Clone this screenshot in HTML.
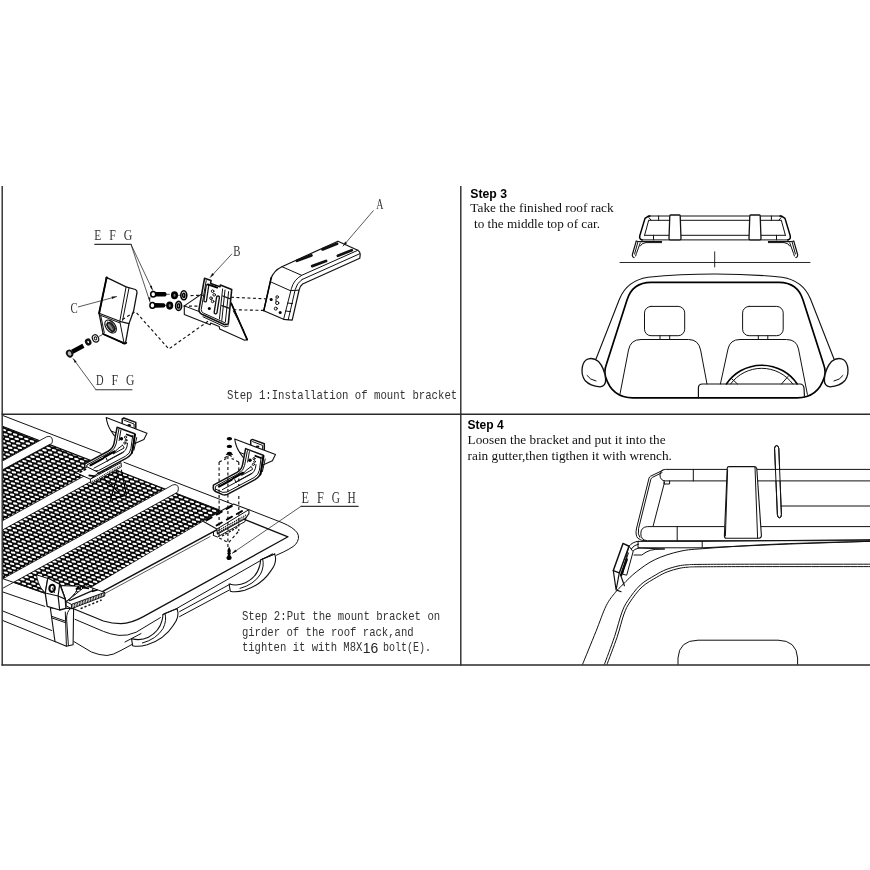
<!DOCTYPE html>
<html><head><meta charset="utf-8"><title>Roof rack installation</title>
<style>
html,body{margin:0;padding:0;background:#fff;}
body{width:870px;height:870px;overflow:hidden;font-family:"Liberation Sans",sans-serif;}
svg{display:block;position:absolute;left:0;top:0;}
.ln{fill:none;stroke:#111;stroke-width:1;stroke-linecap:round;stroke-linejoin:round;}
.th{fill:none;stroke:#111;stroke-width:0.7;stroke-linecap:round;stroke-linejoin:round;}
.bd{fill:none;stroke:#000;stroke-width:1.5;stroke-linecap:round;stroke-linejoin:round;}
.wf{fill:#fff;stroke:#111;stroke-width:1;stroke-linecap:round;stroke-linejoin:round;}
.ds{fill:none;stroke:#111;stroke-width:1.15;stroke-dasharray:3 2.5;}
.fr{stroke:#2a2a2a;stroke-width:1.4;fill:none;}
.sans{font-family:"Liberation Sans",sans-serif;font-weight:bold;font-size:12px;fill:#000;}
.ser{font-family:"Liberation Serif",serif;font-size:13px;fill:#111;}
.mono{font-family:"Liberation Mono",monospace;font-size:12.6px;fill:#333;}
.lab{font-family:"Liberation Serif",serif;font-size:14px;fill:#333;filter:url(#nf);}
</style></head><body>
<svg width="870" height="870" viewBox="0 0 870 870">
<rect x="0" y="0" width="870" height="870" fill="#fff"/>

<g id="frame">
<line class="fr" x1="2.2" y1="186" x2="2.2" y2="665.5"/>
<line class="fr" x1="460.8" y1="186" x2="460.8" y2="665.5"/>
<line class="fr" x1="1.5" y1="414.2" x2="870" y2="414.2"/>
<line class="fr" x1="1.5" y1="665" x2="870" y2="665"/>
</g>
<defs><filter id="nf" x="0" y="0" width="870" height="870" filterUnits="userSpaceOnUse" color-interpolation-filters="sRGB"><feOffset dx="0" dy="0"/></filter></defs>
<g id="text" filter="url(#nf)">
<text class="sans" x="470.3" y="197.6" textLength="36.7" lengthAdjust="spacingAndGlyphs">Step 3</text>
<text class="ser" x="470.3" y="212.3" textLength="143.4" lengthAdjust="spacingAndGlyphs">Take the finished roof rack</text>
<text class="ser" x="474" y="227.6" textLength="126" lengthAdjust="spacingAndGlyphs">to the middle top of car.</text>
<text class="sans" x="467.6" y="428.7" textLength="36.1" lengthAdjust="spacingAndGlyphs">Step 4</text>
<text class="ser" x="467.6" y="443.8" textLength="198" lengthAdjust="spacingAndGlyphs">Loosen the bracket and put it into the</text>
<text class="ser" x="467.6" y="459.5" textLength="204.3" lengthAdjust="spacingAndGlyphs">rain gutter,then tigthen it with wrench.</text>
<text class="mono" x="226.9" y="399.3" textLength="230.3" lengthAdjust="spacingAndGlyphs">Step 1:Installation of mount bracket</text>
<text class="mono" x="241.9" y="620.4" textLength="198.3" lengthAdjust="spacingAndGlyphs">Step 2:Put the mount bracket on</text>
<text class="mono" x="241.9" y="635.8" textLength="171.8" lengthAdjust="spacingAndGlyphs">girder of the roof rack,and</text>
<text class="mono" x="241.9" y="651.3" textLength="120.5" lengthAdjust="spacingAndGlyphs">tighten it with M8X</text>
<text x="362.8" y="652.6" style="font-family:'Liberation Sans',sans-serif;font-size:14.5px;fill:#222" textLength="15.5" lengthAdjust="spacingAndGlyphs">16</text>
<text class="mono" x="383.0" y="651.3" textLength="48.0" lengthAdjust="spacingAndGlyphs">bolt(E).</text>
</g>
<g id="step3">
<path class="ln" d="M648.6 216 H781.4"/>
<path class="ln" d="M648.6 220.3 H781.4"/>
<path class="ln" d="M644.6 235.3 H785.4"/>
<path class="ln" d="M641.6 239.9 H788.4"/>
<path class="bd" d="M650 216 L648.4 216.2 L645 218.4 L639.8 235.6 Q639 239.4 642.2 239.9"/>
<path class="ln" d="M648.6 220.6 L644.6 235.3"/>
<path class="ln" d="M648.8 217.5 L651.2 220.3"/>
<path class="bd" d="M780 216 L781.6 216.2 L785 218.4 L790.2 235.6 Q791 239.4 787.8 239.9"/>
<path class="ln" d="M781.4 220.6 L785.4 235.3"/>
<path class="ln" d="M781.2 217.5 L778.8 220.3"/>
<path class="ln" d="M658.6 216 V220.3 M653.5 235.3 V239.9 M771.4 216 V220.3 M776.5 235.3 V239.9"/>
<path class="wf" style="stroke-width:1.3" d="M670.6 215 H679.4 Q680.2 215 680.2 216 L681 238.6 Q681 239.9 679.8 239.9 H670.2 Q669 239.9 669 238.6 L669.8 216 Q669.8 215 670.6 215Z"/>
<path class="wf" style="stroke-width:1.3" d="M750.6 215 H759.4 Q760.2 215 760.2 216 L761 238.6 Q761 239.9 759.8 239.9 H750.2 Q749 239.9 749 238.6 L749.8 216 Q749.8 215 750.6 215Z"/>
<path class="ln" style="stroke-width:1.2" d="M639.5 241.6 H661.6"/>
<path class="ln" d="M661.6 242.6 H646 Q641.5 243 640.2 246"/>
<path class="ln" style="stroke-width:1.2" d="M636.2 241.2 L632.4 254.5 Q632 257 634 257.6"/>
<path class="ln" d="M638 241.6 L634.6 254 M640.2 243 L636.4 253.6 L635.6 256"/>
<path class="ln" d="M636.2 241.2 L640 241.6"/>
<path class="ln" style="stroke-width:1.2" d="M790.5 241.6 H768.4"/>
<path class="ln" d="M768.4 242.6 H784 Q788.5 243 789.8 246"/>
<path class="ln" style="stroke-width:1.2" d="M793.8 241.2 L797.6 254.5 Q798 257 796 257.6"/>
<path class="ln" d="M792 241.6 L795.4 254 M789.8 243 L793.6 253.6 L794.4 256"/>
<path class="ln" d="M793.8 241.2 L790 241.6"/>
<path class="ln" style="stroke-width:0.9" d="M620 262.5 H810"/>
<path class="ln" style="stroke-width:0.9" d="M714.7 251.8 V267"/>
<path class="ln" style="stroke-width:1.1" d="M596 359 L619.5 299 Q627 280.5 648 277.2 Q680 274 715 274 Q750 274 782 277.2 Q803 280.5 810.5 299 L834 359"/>
<path class="bd" style="stroke-width:1.7" d="M633 397.8 Q612 397.8 605.6 377 Q603.8 371 606.5 364 L627 300 Q632.5 282.4 651 282.4 H779 Q797.5 282.4 803 300 L823.5 364 Q826.2 371 824.4 377 Q818 397.8 797 397.8 Z"/>
<path class="wf" style="stroke-width:1.3" d="M588.5 358.8 Q594 357.6 598.5 361.5 Q604.5 368 605.6 379 Q606 386.5 600 386.8 Q590 386 585 380.5 Q580.8 374.5 582.4 366.5 Q583.8 360 588.5 358.8Z"/>
<path class="ln" d="M587 375.5 Q590 380 596 381"/>
<path class="wf" style="stroke-width:1.3" d="M841.5 358.8 Q836 357.6 831.5 361.5 Q825.5 368 824.4 379 Q824 386.5 830 386.8 Q840 386 845 380.5 Q849.2 374.5 847.6 366.5 Q846.2 360 841.5 358.8Z"/>
<path class="ln" d="M843 375.5 Q840 380 834 381"/>
<rect class="ln" x="644.5" y="306.4" width="40.2" height="29.3" rx="6.5"/>
<rect class="ln" x="742.6" y="306.4" width="40.6" height="29.3" rx="6.5"/>
<path class="ln" d="M660 335.7 V339.5 M669.7 335.7 V339.5 M758.3 335.7 V339.5 M767.8 335.7 V339.5"/>
<path class="ln" d="M620 394 L628.5 350 Q630.5 339.5 641 339.5 H688.6 Q698.5 339.5 700.6 350 L707 384"/>
<path class="ln" d="M720.4 384 L728 349 Q730 339.5 740 339.5 H786.5 Q796.5 339.5 798.5 349 L807.4 394.4"/>
<path class="bd" style="stroke-width:1.6" d="M726.4 384 A42.7 42.7 0 0 1 797.2 384"/>
<path class="ln" d="M730.6 384 A38.4 38.4 0 0 1 792.8 384"/>
<path class="ln" d="M732 379 L737.5 384 M781.5 384 L788 376.5"/>
<path class="ln" style="stroke-width:1.2" d="M698.4 397.8 V388 Q698.4 384 702.4 384 H800 Q803.4 384 804 388 L804.5 397"/>
</g>
<g id="step4">
<clipPath id="c4"><rect x="461" y="415" width="409" height="249.6"/></clipPath>
<g clip-path="url(#c4)">
<path class="wf" style="stroke-width:1" d="M774.6 448 Q774.8 445.4 776.8 445.6 Q778.6 445.8 778.8 448.5 L781.4 514.5 Q781.4 517.8 779.4 517.8 Q777.6 517.8 777.4 514.8 Z"/>
<path class="wf" d="M872 469.4 H665.5 Q660 469.6 660 475 Q660 480.6 665.5 480.9 H872"/>
<path class="ln" d="M693.3 469.4 V480.9"/>
<path class="ln" d="M781 506 H872"/>
<path class="wf" d="M872 526.6 H647.5 Q640.8 527 640.8 533.8 Q640.8 540.2 647.5 540.7 H872"/>
<path class="ln" d="M677.2 526.6 V540.7"/>
<path class="ln" d="M774.6 448 Q774.8 445.4 776.8 445.6 Q778.6 445.8 778.8 448.5 L781.4 514.5 Q781.4 517.8 779.4 517.8 Q777.6 517.8 777.4 514.8 Z"/>
<path class="ln" d="M663 470.2 L650.6 476.2 Q649.4 476.8 649 478.2 L636.6 528 Q635 535 637.8 538.2 Q640.2 540.6 645.4 540.9"/>
<path class="ln" d="M662 472.6 L652.4 477.4 Q651.2 478 650.8 479.4 L638.6 528.4 Q637.4 534.6 639.8 537.4"/>
<path class="ln" d="M664.6 482 L653.2 525.8"/>
<path class="ln" d="M664 480.9 V484 H669.6 V480.9"/>
<path class="wf" style="stroke-width:1.1" d="M729 466.6 H754.2 Q756.4 466.8 756.8 468.6 L761.4 535.6 Q761.4 538.2 759 538.2 H726.4 Q724.2 538.2 724.4 535.6 L727.2 468.4 Q727.4 466.6 729 466.6Z"/>
<path class="ln" d="M755 467 L757.6 538.2"/>
<path class="ln" d="M727.6 470 L725.4 536"/>
<path class="wf" d="M638.4 541.4 H702.2 V547.8 H638.4 Z"/>
<path class="ln" d="M702.2 541.4 L872 539.6"/>
<path class="ln" d="M702.2 547.8 Q790 543.6 872 541.2"/>
<path class="ln" d="M638.6 548 L664.4 549 M638.6 548 Q634.4 549 632.2 551.8"/>
<path class="ln" d="M634 555 H641.8 L646 552.2 Q650 549.8 655.2 549.4 L664.4 549"/>
<path class="ln" d="M638.6 541.2 Q632.4 541.8 629 546.2"/>
<path class="ln" d="M638.6 544 Q633.6 545 630.8 549.4"/>
<path class="wf" style="stroke-width:1" d="M629 546.2 L633.1 551.7 L626.7 575.2 L623 574.3 Z"/>
<path class="wf" style="stroke-width:1.5" d="M623 543.4 L629 546.2 L619.3 572.9 L613.3 570.6 Z"/>
<path d="M626.7 559.5 L621.1 575.2" style="stroke:#000;stroke-width:2.4;stroke-linecap:round;fill:none"/>
<path class="ln" d="M628.4 553 L623.4 568"/>
<path class="ln" style="stroke-width:1.2" d="M613.3 570.6 L616.1 589.9 L621.1 591.7 M619.3 572.9 L616.3 589 M620.7 575.2 L624.4 585.7"/>
<path class="ln" d="M872.0 541.3 C856.1 541.8 804.2 542.9 776.9 544.1 C749.5 545.3 724.0 547.1 707.9 548.3 C691.8 549.5 688.8 549.4 680.0 551.3 C671.2 553.2 662.4 556.1 655.2 559.5 C648.0 562.9 642.2 567.4 636.8 571.5 C631.4 575.6 626.5 580.9 623.0 584.4 C619.5 587.9 618.3 588.7 615.5 592.2 C612.7 595.8 609.5 599.1 606.2 605.7 C602.9 612.3 599.9 621.7 595.9 631.6 C591.9 641.5 584.5 659.6 582.2 665.2"/>
<path class="ln" d="M872.0 564.2 C853.3 564.2 788.7 564.2 760.0 564.2 C731.3 564.2 712.1 564.3 700.0 564.4 C687.9 564.5 690.9 564.5 687.2 564.8 C683.5 565.1 681.5 565.2 678.0 566.0 C674.5 566.8 669.8 568.1 666.0 569.6 C662.2 571.1 659.5 572.6 655.2 575.2 C650.9 577.8 644.8 580.8 640.3 585.0 C635.8 589.2 631.0 595.9 627.9 600.5 C624.8 605.1 623.9 606.9 621.7 612.9 C619.5 618.9 617.4 628.0 614.5 636.7 C611.6 645.4 605.8 660.5 604.1 665.2"/>
<path class="ln" d="M872.0 566.6 C853.3 566.6 788.7 566.6 760.0 566.6 C731.3 566.6 712.0 566.7 700.0 566.8 C688.0 566.9 691.5 566.9 688.0 567.2 C684.5 567.5 682.4 567.6 679.0 568.4 C675.6 569.2 671.1 570.3 667.4 571.8 C663.7 573.3 661.0 574.7 656.8 577.2 C652.6 579.7 646.7 582.7 642.2 586.8 C637.7 590.9 633.0 597.5 630.0 602.0 C627.0 606.5 626.2 608.1 624.0 614.0 C621.8 619.9 619.9 628.9 617.0 637.4 C614.1 645.9 608.4 660.6 606.7 665.2"/>
<path class="ln" d="M678 665 V658 Q679 640.4 698 640.2 H778 Q796.6 640.4 797.6 658 V665"/>
</g></g>
<g id="step1">
<path class="wf" style="stroke-width:1.2" d="M281.9 266.7 L337.9 241.2 L357.8 250.3 Q360.4 251.8 360.2 254.6 L359.8 258.2 L302.6 284 Q299.6 286.4 299.1 290 L292.2 320.2 L283.6 319.3 L263.8 310.7 L271 278.6 Q273.6 270.6 281.9 266.7 Z"/>
<path class="ln" d="M281.9 266.7 L301.7 275.3 L357.8 250.3"/>
<path class="ln" d="M301.9 279.6 L359.6 253.8"/>
<path class="ln" d="M301.7 275.3 Q293.6 279.8 291.4 288.6 L283.6 319.3"/>
<path class="ln" d="M302 279.6 Q296.8 282.8 295.2 289.6 L288.2 319.8"/>
<path class="ln" d="M271.4 282.2 L290.2 290.6 L298.6 290.2"/>
<path class="ln" d="M287.4 303 L292.6 303.6 M285.6 311 L290.6 311.6"/>
<path class="bd" d="M271.2 277.6 L263.8 310.7"/>
<path d="M297 260.8 L311.4 255.4 M322.6 249.4 L337 243.8 M312.2 266.1 L326 261 M337.9 255.7 L351.8 250.2" style="stroke:#111;stroke-width:2.8;stroke-linecap:round;fill:none"/>
<circle cx="271.2" cy="299.5" r="1.5" fill="#000"/><circle cx="280.2" cy="312.4" r="1.5" fill="#000"/>
<circle class="ln" cx="277.2" cy="297" r="1.3"/><circle class="ln" cx="277.2" cy="303" r="1.6"/><circle class="ln" cx="275.8" cy="308.6" r="1.5"/>
<path class="ln" d="M276 299 L276 301.4"/>
<text class="lab" style="font-size:14.6px" x="376.2" y="209.0" textLength="7.2" lengthAdjust="spacingAndGlyphs">A</text>
<text class="lab" style="font-size:14.6px" x="233.2" y="255.9" textLength="7.2" lengthAdjust="spacingAndGlyphs">B</text>
<path class="th" d="M373.3 210.7 L343.1 246"/>
<path d="M343.1 246 L345.2 241.6 L347 243.2 Z" fill="#111"/>
<path class="wf" style="stroke-width:1.1" d="M184.3 305.9 L202.6 293.4 L230.9 302.4 L247.2 339.6 L244.7 340.3 L219.7 329.1 L219.2 326.6 L210.6 323 L210.2 324.8 L184.3 314.5 Z"/>
<path class="bd" style="stroke-width:1.7" d="M231.4 303.6 L247.2 339.6"/>
<path class="ln" d="M233.4 311 L243.6 330.4"/>
<path class="ln" d="M184.3 305.9 L203 313"/>
<path class="wf" style="stroke-width:1.6" d="M204.5 278.3 L211 280.6 L210.6 283.4 L220 286.8 L220.4 285 L231.7 289.5 L228.3 324 L224.8 324.8 L202.4 314.5 Q198.6 312.4 199 309.3 Z"/>
<path class="ln" d="M206.2 280.6 L201.2 309.6 Q201 312 203.6 313.2 L225.4 323"/>
<path class="ln" d="M203 316.8 L224.6 326.8 L228.3 326"/>
<path d="M207.4 286 L205.2 300.6" style="stroke:#111;stroke-width:3.8;stroke-linecap:round;fill:none"/>
<path d="M207.4 286 L205.2 300.6" style="stroke:#fff;stroke-width:1.3;stroke-linecap:round;fill:none"/>
<path d="M218 297.4 L215.6 312.4" style="stroke:#111;stroke-width:4.2;stroke-linecap:round;fill:none"/>
<path d="M218 297.4 L215.6 312.4" style="stroke:#fff;stroke-width:1.5;stroke-linecap:round;fill:none"/>
<path class="ln" d="M222.6 289 L219.4 319 M225 290 L221.8 320.4 M228.6 291.6 L225.4 321.6"/>
<path class="ln" style="stroke-width:1.3" d="M222.8 296 L229.6 298.6 M221.8 305.6 L228.8 308.2"/>
<path class="ln" style="stroke-width:1.9;stroke:#000" d="M207.8 284.4 L217.2 287.6"/>
<circle class="ln" cx="212.6" cy="291.2" r="1.3"/><circle class="ln" cx="214.2" cy="294.8" r="1.3"/><circle class="ln" cx="211" cy="298.2" r="1.3"/><circle class="ln" cx="212.6" cy="301.4" r="1.3"/>
<circle cx="209.3" cy="308.4" r="1.5" fill="#000"/>
<path class="th" d="M231.7 254.1 L210.2 277.4"/>
<path d="M210.2 277.4 L212.2 273 L214.1 274.7 Z" fill="#111"/>
<path d="M155.6 292.0 L165.20000000000002 292.1 L166.4 293.1 V295.5 L165.20000000000002 296.5 L155.6 296.6Z" fill="#000"/>
<path class="th" d="M166.4 294.3 h3"/>
<ellipse cx="153.2" cy="294.3" rx="2.5" ry="2.8" fill="#fff" stroke="#000" stroke-width="1.5"/>
<path d="M154.8 303.09999999999997 L164.0 303.2 L165.2 304.2 V306.59999999999997 L164.0 307.59999999999997 L154.8 307.7Z" fill="#000"/>
<path class="th" d="M165.2 305.4 h3"/>
<ellipse cx="152.4" cy="305.4" rx="2.5" ry="2.8" fill="#fff" stroke="#000" stroke-width="1.5"/>
<ellipse cx="174.5" cy="295.3" rx="2.3" ry="2.8" fill="#777" stroke="#000" stroke-width="2.5"/>
<ellipse cx="183.8" cy="295.3" rx="3.0" ry="4.5" fill="#fff" stroke="#000" stroke-width="1.6"/>
<ellipse cx="183.8" cy="295.3" rx="1.1" ry="2.1" fill="#fff" stroke="#000" stroke-width="1.5"/>
<ellipse cx="169.7" cy="305.6" rx="2.3" ry="2.8" fill="#777" stroke="#000" stroke-width="2.5"/>
<ellipse cx="178.6" cy="305.9" rx="3.0" ry="4.5" fill="#fff" stroke="#000" stroke-width="1.6"/>
<ellipse cx="178.6" cy="305.9" rx="1.1" ry="2.1" fill="#fff" stroke="#000" stroke-width="1.5"/>
<path class="th" d="M177.6 295.3 h3.2"/>
<text class="lab" style="font-size:14.8px" x="94.2" y="240.1" textLength="7.0" lengthAdjust="spacingAndGlyphs">E</text><text class="lab" style="font-size:14.8px" x="109.3" y="240.1" textLength="6.6" lengthAdjust="spacingAndGlyphs">F</text><text class="lab" style="font-size:14.8px" x="123.8" y="240.1" textLength="8.6" lengthAdjust="spacingAndGlyphs">G</text>
<path class="th" d="M131 244.4 L152.6 290.2 M131 244.4 L150 302"/>
<path class="ln" style="stroke-width:1.1;stroke:#333" d="M94.8 244.4 H131"/>
<path d="M152.6 290.2 L149.8 286.6 L151.8 285.6 Z M150 302 L148.2 297.6 L150.4 297.2 Z" fill="#111"/>
<path class="wf" style="stroke-width:1.3" d="M106.6 277.6 L110.6 279.4 L126.1 286.8 L135.4 289.5 Q137.2 290.4 137 292.6 L133.6 311 L129 323.6 L125.8 341.4 Q125.4 343.4 123.4 343 L103.1 334 L99.1 313.3 Z"/>
<path class="ln" style="stroke-width:1.2" d="M99.1 313.3 L119.8 321.3 L129 323.6"/>
<path class="ln" d="M99.8 315 L119.6 322.8"/>
<path class="ln" d="M126.1 286.8 L119.8 321.3 L123.8 341.8"/>
<path class="ln" d="M129 288 L122.6 320.4"/>
<path class="ln" d="M100.8 315.8 L104.3 332.8"/>
<path class="bd" style="stroke-width:1.9" d="M106.6 277.6 L99.1 313.3"/>
<path class="bd" style="stroke-width:1.8" d="M103.1 334 L122.6 342.6"/>
<circle cx="106.8" cy="277.8" r="1.3" fill="#111"/>
<path d="M122.4 342.6 Q124.4 344.6 126.4 342.8" style="stroke:#000;stroke-width:1.6;fill:none;stroke-linecap:round"/>
<ellipse cx="110.6" cy="326.5" rx="4.6" ry="7.4" transform="rotate(-38 110.6 326.5)" fill="#fff" stroke="#111" stroke-width="1.1"/>
<ellipse cx="110.9" cy="326.9" rx="2.6" ry="5" transform="rotate(-38 110.9 326.9)" fill="#888" stroke="#111" stroke-width="1.6"/>
<path d="M107 321.6 Q111.6 324 114.8 331.6 M105.6 324.4 Q109.4 326.6 112.4 332.6 M109.4 320.8 Q113.4 323.4 115.8 329.4" style="stroke:#222;stroke-width:0.9;fill:none"/>
<text class="lab" style="font-size:14.8px" x="70.4" y="312.6" textLength="7.2" lengthAdjust="spacingAndGlyphs">C</text>
<path class="th" d="M78.3 306.9 L116.6 296.6"/>
<path d="M116.6 296.6 L111.6 296.6 L112.2 299 Z" fill="#111"/>
<path d="M72.2 351.8 L83.4 345.8" style="stroke:#000;stroke-width:4.4;fill:none"/>
<ellipse cx="69.6" cy="353.6" rx="2.6" ry="3.2" transform="rotate(-30 69.6 353.6)" fill="#bbb" stroke="#111" stroke-width="1.8"/>
<ellipse cx="88.2" cy="342" rx="2" ry="2.4" transform="rotate(-25 88.2 342)" fill="#fff" stroke="#111" stroke-width="2.4"/>
<ellipse cx="95.5" cy="338.4" rx="3" ry="3.8" transform="rotate(-25 95.5 338.4)" fill="#fff" stroke="#111" stroke-width="1.2"/>
<ellipse cx="95.5" cy="338.4" rx="1.2" ry="1.6" transform="rotate(-25 95.5 338.4)" fill="#fff" stroke="#111" stroke-width="1"/>
<path class="th" d="M99 336.4 L101.8 335"/>
<text class="lab" style="font-size:14.6px" x="95.9" y="385.2" textLength="7.6" lengthAdjust="spacingAndGlyphs">D</text><text class="lab" style="font-size:14.6px" x="111.4" y="385.2" textLength="6.6" lengthAdjust="spacingAndGlyphs">F</text><text class="lab" style="font-size:14.6px" x="125.9" y="385.2" textLength="8.4" lengthAdjust="spacingAndGlyphs">G</text>
<path class="th" d="M95.9 389.7 L73.1 358.6"/>
<path class="ln" style="stroke-width:1.1;stroke:#333" d="M132 389.7 H95.9"/>
<path d="M73.1 358.6 L76.6 361.6 L74.8 362.9 Z" fill="#111"/>
<path class="ds" d="M190.6 295.6 L203 295.2 M230.9 297.2 L269.6 299 M183.4 306 L199.4 306.2 M233.4 309.7 L263.6 310.4"/>
<path class="ds" d="M136.6 312.8 L168.8 349 L210.2 319.7"/>
<path class="ds" d="M122.4 319.4 L135 312"/>
</g>
<g id="step2">
<clipPath id="c2"><rect x="2.9" y="414.9" width="456.9" height="249.5"/></clipPath>
<g clip-path="url(#c2)">
<path d="M2.9 426.4 L220.3 510.3 L202.6 521.8 L68.3 601.3 L2.9 578.6Z" fill="#0a0a0a" stroke="#0a0a0a" stroke-width="1"/>
<clipPath id="cm"><path d="M3.4 427.4 L219.4 510.8 L202.2 521.2 L68.3 600.4 L3.4 577.8Z"/></clipPath>
<g clip-path="url(#cm)"><g transform="matrix(1 0.17 0 1 0 0)"><path d="M2.0 578.8h2.4M7.6 580.1h2.4M0.4 574.6h2.4M6.0 575.9h2.4M11.6 577.1h2.4M17.1 578.4h2.4M22.7 579.7h2.4M28.3 581.0h2.4M33.9 582.3h2.4M39.4 583.6h2.4M45.0 584.9h2.4M50.6 586.2h2.4M56.1 587.5h2.4M61.7 588.8h2.4M67.3 590.1h2.4M4.5 571.7h2.4M10.0 573.0h2.4M15.6 574.2h2.4M21.2 575.5h2.4M26.7 576.8h2.4M32.3 578.1h2.4M37.9 579.4h2.4M43.4 580.7h2.4M49.0 582.0h2.4M54.6 583.3h2.4M60.2 584.6h2.4M65.7 585.9h2.4M71.3 587.2h2.4M2.9 567.5h2.4M8.5 568.8h2.4M14.0 570.0h2.4M19.6 571.3h2.4M25.2 572.6h2.4M30.8 573.9h2.4M36.3 575.2h2.4M41.9 576.5h2.4M47.5 577.8h2.4M53.0 579.1h2.4M58.6 580.4h2.4M64.2 581.7h2.4M69.7 583.0h2.4M75.3 584.3h2.4M1.4 563.3h2.4M6.9 564.6h2.4M12.5 565.9h2.4M18.1 567.1h2.4M23.6 568.4h2.4M29.2 569.7h2.4M34.8 571.0h2.4M40.3 572.3h2.4M45.9 573.6h2.4M51.5 574.9h2.4M57.1 576.2h2.4M62.6 577.5h2.4M68.2 578.8h2.4M73.8 580.1h2.4M79.3 581.4h2.4M-0.2 559.1h2.4M5.4 560.4h2.4M10.9 561.7h2.4M16.5 562.9h2.4M22.1 564.2h2.4M27.7 565.5h2.4M33.2 566.8h2.4M38.8 568.1h2.4M44.4 569.4h2.4M49.9 570.7h2.4M55.5 572.0h2.4M61.1 573.3h2.4M66.6 574.6h2.4M72.2 575.9h2.4M77.8 577.2h2.4M83.4 578.5h2.4M3.8 556.2h2.4M9.4 557.5h2.4M15.0 558.8h2.4M20.5 560.0h2.4M26.1 561.3h2.4M31.7 562.6h2.4M37.2 563.9h2.4M42.8 565.2h2.4M48.4 566.5h2.4M54.0 567.8h2.4M59.5 569.1h2.4M65.1 570.4h2.4M70.7 571.7h2.4M76.2 573.0h2.4M81.8 574.3h2.4M2.3 552.0h2.4M7.8 553.3h2.4M13.4 554.6h2.4M19.0 555.8h2.4M24.6 557.1h2.4M30.1 558.4h2.4M35.7 559.7h2.4M41.3 561.0h2.4M46.8 562.3h2.4M52.4 563.6h2.4M58.0 564.9h2.4M63.5 566.2h2.4M69.1 567.5h2.4M74.7 568.8h2.4M80.3 570.1h2.4M85.8 571.4h2.4M0.7 547.8h2.4M6.3 549.1h2.4M11.9 550.4h2.4M17.4 551.7h2.4M23.0 552.9h2.4M28.6 554.2h2.4M34.1 555.5h2.4M39.7 556.8h2.4M45.3 558.1h2.4M50.9 559.4h2.4M56.4 560.7h2.4M62.0 562.0h2.4M67.6 563.3h2.4M73.1 564.6h2.4M78.7 565.9h2.4M84.3 567.2h2.4M89.8 568.5h2.4M4.7 544.9h2.4M10.3 546.2h2.4M15.9 547.5h2.4M21.5 548.7h2.4M27.0 550.0h2.4M32.6 551.3h2.4M38.2 552.6h2.4M43.7 553.9h2.4M49.3 555.2h2.4M54.9 556.5h2.4M60.4 557.8h2.4M66.0 559.1h2.4M71.6 560.4h2.4M77.2 561.7h2.4M82.7 563.0h2.4M88.3 564.3h2.4M93.9 565.6h2.4M3.2 540.7h2.4M8.8 542.0h2.4M14.3 543.3h2.4M19.9 544.6h2.4M25.5 545.8h2.4M31.0 547.1h2.4M36.6 548.4h2.4M42.2 549.7h2.4M47.8 551.0h2.4M53.3 552.3h2.4M58.9 553.6h2.4M64.5 554.9h2.4M70.0 556.2h2.4M75.6 557.5h2.4M81.2 558.8h2.4M86.7 560.1h2.4M92.3 561.4h2.4M97.9 562.7h2.4M1.6 536.5h2.4M7.2 537.8h2.4M12.8 539.1h2.4M18.4 540.4h2.4M23.9 541.6h2.4M29.5 542.9h2.4M35.1 544.2h2.4M40.6 545.5h2.4M46.2 546.8h2.4M51.8 548.1h2.4M57.3 549.4h2.4M62.9 550.7h2.4M68.5 552.0h2.4M74.1 553.3h2.4M79.6 554.6h2.4M85.2 555.9h2.4M90.8 557.2h2.4M96.3 558.5h2.4M101.9 559.8h2.4M0.1 532.3h2.4M5.7 533.6h2.4M11.2 534.9h2.4M16.8 536.2h2.4M22.4 537.5h2.4M27.9 538.7h2.4M33.5 540.0h2.4M39.1 541.3h2.4M44.7 542.6h2.4M50.2 543.9h2.4M55.8 545.2h2.4M61.4 546.5h2.4M66.9 547.8h2.4M72.5 549.1h2.4M78.1 550.4h2.4M83.6 551.7h2.4M89.2 553.0h2.4M94.8 554.3h2.4M100.4 555.6h2.4M105.9 556.8h2.4M4.1 529.4h2.4M9.7 530.7h2.4M15.3 532.0h2.4M20.8 533.3h2.4M26.4 534.5h2.4M32.0 535.8h2.4M37.5 537.1h2.4M43.1 538.4h2.4M48.7 539.7h2.4M54.2 541.0h2.4M59.8 542.3h2.4M65.4 543.6h2.4M71.0 544.9h2.4M76.5 546.2h2.4M82.1 547.5h2.4M87.7 548.8h2.4M93.2 550.1h2.4M98.8 551.4h2.4M104.4 552.7h2.4M109.9 553.9h2.4M2.6 525.2h2.4M8.1 526.5h2.4M13.7 527.8h2.4M19.3 529.1h2.4M24.8 530.4h2.4M30.4 531.6h2.4M36.0 532.9h2.4M41.6 534.2h2.4M47.1 535.5h2.4M52.7 536.8h2.4M58.3 538.1h2.4M63.8 539.4h2.4M69.4 540.7h2.4M75.0 542.0h2.4M80.5 543.3h2.4M86.1 544.6h2.4M91.7 545.9h2.4M97.3 547.2h2.4M102.8 548.5h2.4M108.4 549.7h2.4M114.0 551.0h2.4M1.0 521.0h2.4M6.6 522.3h2.4M12.2 523.6h2.4M17.7 524.9h2.4M23.3 526.2h2.4M28.9 527.4h2.4M34.4 528.7h2.4M40.0 530.0h2.4M45.6 531.3h2.4M51.1 532.6h2.4M56.7 533.9h2.4M62.3 535.2h2.4M67.9 536.5h2.4M73.4 537.8h2.4M79.0 539.1h2.4M84.6 540.4h2.4M90.1 541.7h2.4M95.7 543.0h2.4M101.3 544.3h2.4M106.8 545.6h2.4M112.4 546.8h2.4M118.0 548.1h2.4M5.0 518.1h2.4M10.6 519.4h2.4M16.2 520.7h2.4M21.7 522.0h2.4M27.3 523.3h2.4M32.9 524.5h2.4M38.5 525.8h2.4M44.0 527.1h2.4M49.6 528.4h2.4M55.2 529.7h2.4M60.7 531.0h2.4M66.3 532.3h2.4M71.9 533.6h2.4M77.4 534.9h2.4M83.0 536.2h2.4M88.6 537.5h2.4M94.2 538.8h2.4M99.7 540.1h2.4M105.3 541.4h2.4M110.9 542.6h2.4M116.4 543.9h2.4M122.0 545.2h2.4M3.5 513.9h2.4M9.1 515.2h2.4M14.6 516.5h2.4M20.2 517.8h2.4M25.8 519.1h2.4M31.3 520.3h2.4M36.9 521.6h2.4M42.5 522.9h2.4M48.0 524.2h2.4M53.6 525.5h2.4M59.2 526.8h2.4M64.8 528.1h2.4M70.3 529.4h2.4M75.9 530.7h2.4M81.5 532.0h2.4M87.0 533.3h2.4M92.6 534.6h2.4M98.2 535.9h2.4M103.7 537.2h2.4M109.3 538.5h2.4M114.9 539.7h2.4M120.5 541.0h2.4M126.0 542.3h2.4M1.9 509.7h2.4M7.5 511.0h2.4M13.1 512.3h2.4M18.6 513.6h2.4M24.2 514.9h2.4M29.8 516.2h2.4M35.4 517.4h2.4M40.9 518.7h2.4M46.5 520.0h2.4M52.1 521.3h2.4M57.6 522.6h2.4M63.2 523.9h2.4M68.8 525.2h2.4M74.3 526.5h2.4M79.9 527.8h2.4M85.5 529.1h2.4M91.1 530.4h2.4M96.6 531.7h2.4M102.2 533.0h2.4M107.8 534.3h2.4M113.3 535.5h2.4M118.9 536.8h2.4M124.5 538.1h2.4M130.0 539.4h2.4M0.4 505.5h2.4M6.0 506.8h2.4M11.5 508.1h2.4M17.1 509.4h2.4M22.7 510.7h2.4M28.2 512.0h2.4M33.8 513.2h2.4M39.4 514.5h2.4M44.9 515.8h2.4M50.5 517.1h2.4M56.1 518.4h2.4M61.7 519.7h2.4M67.2 521.0h2.4M72.8 522.3h2.4M78.4 523.6h2.4M83.9 524.9h2.4M89.5 526.2h2.4M95.1 527.5h2.4M100.6 528.8h2.4M106.2 530.1h2.4M111.8 531.4h2.4M117.4 532.6h2.4M122.9 533.9h2.4M128.5 535.2h2.4M134.1 536.5h2.4M4.4 502.6h2.4M10.0 503.9h2.4M15.5 505.2h2.4M21.1 506.5h2.4M26.7 507.8h2.4M32.3 509.1h2.4M37.8 510.3h2.4M43.4 511.6h2.4M49.0 512.9h2.4M54.5 514.2h2.4M60.1 515.5h2.4M65.7 516.8h2.4M71.2 518.1h2.4M76.8 519.4h2.4M82.4 520.7h2.4M88.0 522.0h2.4M93.5 523.3h2.4M99.1 524.6h2.4M104.7 525.9h2.4M110.2 527.2h2.4M115.8 528.5h2.4M121.4 529.7h2.4M126.9 531.0h2.4M132.5 532.3h2.4M138.1 533.6h2.4M2.9 498.4h2.4M8.4 499.7h2.4M14.0 501.0h2.4M19.6 502.3h2.4M25.1 503.6h2.4M30.7 504.9h2.4M36.3 506.2h2.4M41.8 507.4h2.4M47.4 508.7h2.4M53.0 510.0h2.4M58.6 511.3h2.4M64.1 512.6h2.4M69.7 513.9h2.4M75.3 515.2h2.4M80.8 516.5h2.4M86.4 517.8h2.4M92.0 519.1h2.4M97.5 520.4h2.4M103.1 521.7h2.4M108.7 523.0h2.4M114.3 524.3h2.4M119.8 525.5h2.4M125.4 526.8h2.4M131.0 528.1h2.4M136.5 529.4h2.4M142.1 530.7h2.4M1.3 494.2h2.4M6.9 495.5h2.4M12.4 496.8h2.4M18.0 498.1h2.4M23.6 499.4h2.4M29.2 500.7h2.4M34.7 502.0h2.4M40.3 503.2h2.4M45.9 504.5h2.4M51.4 505.8h2.4M57.0 507.1h2.4M62.6 508.4h2.4M68.1 509.7h2.4M73.7 511.0h2.4M79.3 512.3h2.4M84.9 513.6h2.4M90.4 514.9h2.4M96.0 516.2h2.4M101.6 517.5h2.4M107.1 518.8h2.4M112.7 520.1h2.4M118.3 521.4h2.4M123.8 522.6h2.4M129.4 523.9h2.4M135.0 525.2h2.4M140.6 526.5h2.4M146.1 527.8h2.4M5.3 491.3h2.4M10.9 492.6h2.4M16.5 493.9h2.4M22.0 495.2h2.4M27.6 496.5h2.4M33.2 497.8h2.4M38.7 499.1h2.4M44.3 500.3h2.4M49.9 501.6h2.4M55.5 502.9h2.4M61.0 504.2h2.4M66.6 505.5h2.4M72.2 506.8h2.4M77.7 508.1h2.4M83.3 509.4h2.4M88.9 510.7h2.4M94.4 512.0h2.4M100.0 513.3h2.4M105.6 514.6h2.4M111.2 515.9h2.4M116.7 517.2h2.4M122.3 518.4h2.4M127.9 519.7h2.4M133.4 521.0h2.4M139.0 522.3h2.4M144.6 523.6h2.4M150.1 524.9h2.4M3.8 487.1h2.4M9.3 488.4h2.4M14.9 489.7h2.4M20.5 491.0h2.4M26.1 492.3h2.4M31.6 493.6h2.4M37.2 494.9h2.4M42.8 496.1h2.4M48.3 497.4h2.4M53.9 498.7h2.4M59.5 500.0h2.4M65.0 501.3h2.4M70.6 502.6h2.4M76.2 503.9h2.4M81.8 505.2h2.4M87.3 506.5h2.4M92.9 507.8h2.4M98.5 509.1h2.4M104.0 510.4h2.4M109.6 511.7h2.4M115.2 513.0h2.4M120.7 514.3h2.4M126.3 515.5h2.4M131.9 516.8h2.4M137.5 518.1h2.4M143.0 519.4h2.4M148.6 520.7h2.4M154.2 522.0h2.4M2.2 482.9h2.4M7.8 484.2h2.4M13.4 485.5h2.4M18.9 486.8h2.4M24.5 488.1h2.4M30.1 489.4h2.4M35.6 490.7h2.4M41.2 492.0h2.4M46.8 493.2h2.4M52.4 494.5h2.4M57.9 495.8h2.4M63.5 497.1h2.4M69.1 498.4h2.4M74.6 499.7h2.4M80.2 501.0h2.4M85.8 502.3h2.4M91.3 503.6h2.4M96.9 504.9h2.4M102.5 506.2h2.4M108.0 507.5h2.4M113.6 508.8h2.4M119.2 510.1h2.4M124.8 511.3h2.4M130.3 512.6h2.4M135.9 513.9h2.4M141.5 515.2h2.4M147.0 516.5h2.4M152.6 517.8h2.4M158.2 519.1h2.4M0.7 478.7h2.4M6.2 480.0h2.4M11.8 481.3h2.4M17.4 482.6h2.4M23.0 483.9h2.4M28.5 485.2h2.4M34.1 486.5h2.4M39.7 487.8h2.4M45.2 489.0h2.4M50.8 490.3h2.4M56.4 491.6h2.4M61.9 492.9h2.4M67.5 494.2h2.4M73.1 495.5h2.4M78.7 496.8h2.4M84.2 498.1h2.4M89.8 499.4h2.4M95.4 500.7h2.4M100.9 502.0h2.4M106.5 503.3h2.4M112.1 504.6h2.4M117.6 505.9h2.4M123.2 507.2h2.4M128.8 508.4h2.4M134.4 509.7h2.4M139.9 511.0h2.4M145.5 512.3h2.4M151.1 513.6h2.4M156.6 514.9h2.4M162.2 516.2h2.4M4.7 475.8h2.4M10.3 477.1h2.4M15.8 478.4h2.4M21.4 479.7h2.4M27.0 481.0h2.4M32.5 482.3h2.4M38.1 483.6h2.4M43.7 484.9h2.4M49.2 486.1h2.4M54.8 487.4h2.4M60.4 488.7h2.4M66.0 490.0h2.4M71.5 491.3h2.4M77.1 492.6h2.4M82.7 493.9h2.4M88.2 495.2h2.4M93.8 496.5h2.4M99.4 497.8h2.4M105.0 499.1h2.4M110.5 500.4h2.4M116.1 501.7h2.4M121.7 503.0h2.4M127.2 504.2h2.4M132.8 505.5h2.4M138.4 506.8h2.4M143.9 508.1h2.4M149.5 509.4h2.4M155.1 510.7h2.4M160.7 512.0h2.4M166.2 513.3h2.4M3.1 471.6h2.4M8.7 472.9h2.4M14.3 474.2h2.4M19.9 475.5h2.4M25.4 476.8h2.4M31.0 478.1h2.4M36.6 479.4h2.4M42.1 480.7h2.4M47.7 481.9h2.4M53.3 483.2h2.4M58.8 484.5h2.4M64.4 485.8h2.4M70.0 487.1h2.4M75.5 488.4h2.4M81.1 489.7h2.4M86.7 491.0h2.4M92.3 492.3h2.4M97.8 493.6h2.4M103.4 494.9h2.4M109.0 496.2h2.4M114.5 497.5h2.4M120.1 498.8h2.4M125.7 500.1h2.4M131.3 501.3h2.4M136.8 502.6h2.4M142.4 503.9h2.4M148.0 505.2h2.4M153.5 506.5h2.4M159.1 507.8h2.4M164.7 509.1h2.4M170.2 510.4h2.4M1.6 467.4h2.4M7.2 468.7h2.4M12.7 470.0h2.4M18.3 471.3h2.4M23.9 472.6h2.4M29.4 473.9h2.4M35.0 475.2h2.4M40.6 476.5h2.4M46.2 477.8h2.4M51.7 479.0h2.4M57.3 480.3h2.4M62.9 481.6h2.4M68.4 482.9h2.4M74.0 484.2h2.4M79.6 485.5h2.4M85.1 486.8h2.4M90.7 488.1h2.4M96.3 489.4h2.4M101.9 490.7h2.4M107.4 492.0h2.4M113.0 493.3h2.4M118.6 494.6h2.4M124.1 495.9h2.4M129.7 497.1h2.4M135.3 498.4h2.4M140.8 499.7h2.4M146.4 501.0h2.4M152.0 502.3h2.4M157.6 503.6h2.4M163.1 504.9h2.4M168.7 506.2h2.4M174.3 507.5h2.4M0.0 463.2h2.4M5.6 464.5h2.4M11.2 465.8h2.4M16.8 467.1h2.4M22.3 468.4h2.4M27.9 469.7h2.4M33.5 471.0h2.4M39.0 472.3h2.4M44.6 473.6h2.4M50.2 474.8h2.4M55.7 476.1h2.4M61.3 477.4h2.4M66.9 478.7h2.4M72.5 480.0h2.4M78.0 481.3h2.4M83.6 482.6h2.4M89.2 483.9h2.4M94.7 485.2h2.4M100.3 486.5h2.4M105.9 487.8h2.4M111.4 489.1h2.4M117.0 490.4h2.4M122.6 491.7h2.4M128.2 493.0h2.4M133.7 494.2h2.4M139.3 495.5h2.4M144.9 496.8h2.4M150.4 498.1h2.4M156.0 499.4h2.4M161.6 500.7h2.4M167.1 502.0h2.4M172.7 503.3h2.4M178.3 504.6h2.4M4.1 460.3h2.4M9.6 461.6h2.4M15.2 462.9h2.4M20.8 464.2h2.4M26.3 465.5h2.4M31.9 466.8h2.4M37.5 468.1h2.4M43.0 469.4h2.4M48.6 470.7h2.4M54.2 471.9h2.4M59.8 473.2h2.4M65.3 474.5h2.4M70.9 475.8h2.4M76.5 477.1h2.4M82.0 478.4h2.4M87.6 479.7h2.4M93.2 481.0h2.4M98.8 482.3h2.4M104.3 483.6h2.4M109.9 484.9h2.4M115.5 486.2h2.4M121.0 487.5h2.4M126.6 488.8h2.4M132.2 490.0h2.4M137.7 491.3h2.4M143.3 492.6h2.4M148.9 493.9h2.4M154.5 495.2h2.4M160.0 496.5h2.4M165.6 497.8h2.4M171.2 499.1h2.4M176.7 500.4h2.4M182.3 501.7h2.4M2.5 456.1h2.4M8.1 457.4h2.4M13.7 458.7h2.4M19.2 460.0h2.4M24.8 461.3h2.4M30.4 462.6h2.4M35.9 463.9h2.4M41.5 465.2h2.4M47.1 466.5h2.4M52.6 467.7h2.4M58.2 469.0h2.4M63.8 470.3h2.4M69.3 471.6h2.4M74.9 472.9h2.4M80.5 474.2h2.4M86.1 475.5h2.4M91.6 476.8h2.4M97.2 478.1h2.4M102.8 479.4h2.4M108.3 480.7h2.4M113.9 482.0h2.4M119.5 483.3h2.4M125.1 484.6h2.4M130.6 485.9h2.4M136.2 487.1h2.4M141.8 488.4h2.4M147.3 489.7h2.4M152.9 491.0h2.4M158.5 492.3h2.4M164.0 493.6h2.4M169.6 494.9h2.4M175.2 496.2h2.4M180.8 497.5h2.4M186.3 498.8h2.4M1.0 451.9h2.4M6.5 453.2h2.4M12.1 454.5h2.4M17.7 455.8h2.4M23.2 457.1h2.4M28.8 458.4h2.4M34.4 459.7h2.4M40.0 461.0h2.4M45.5 462.3h2.4M51.1 463.6h2.4M56.7 464.8h2.4M62.2 466.1h2.4M67.8 467.4h2.4M73.4 468.7h2.4M78.9 470.0h2.4M84.5 471.3h2.4M90.1 472.6h2.4M95.6 473.9h2.4M101.2 475.2h2.4M106.8 476.5h2.4M112.4 477.8h2.4M117.9 479.1h2.4M123.5 480.4h2.4M129.1 481.7h2.4M134.6 482.9h2.4M140.2 484.2h2.4M145.8 485.5h2.4M151.4 486.8h2.4M156.9 488.1h2.4M162.5 489.4h2.4M168.1 490.7h2.4M173.6 492.0h2.4M179.2 493.3h2.4M184.8 494.6h2.4M190.3 495.9h2.4M5.0 449.0h2.4M10.6 450.3h2.4M16.1 451.6h2.4M21.7 452.9h2.4M27.3 454.2h2.4M32.8 455.5h2.4M38.4 456.8h2.4M44.0 458.1h2.4M49.5 459.4h2.4M55.1 460.6h2.4M60.7 461.9h2.4M66.3 463.2h2.4M71.8 464.5h2.4M77.4 465.8h2.4M83.0 467.1h2.4M88.5 468.4h2.4M94.1 469.7h2.4M99.7 471.0h2.4M105.2 472.3h2.4M110.8 473.6h2.4M116.4 474.9h2.4M122.0 476.2h2.4M127.5 477.5h2.4M133.1 478.8h2.4M138.7 480.0h2.4M144.2 481.3h2.4M149.8 482.6h2.4M155.4 483.9h2.4M160.9 485.2h2.4M166.5 486.5h2.4M172.1 487.8h2.4M177.7 489.1h2.4M183.2 490.4h2.4M188.8 491.7h2.4M194.4 493.0h2.4M3.4 444.8h2.4M9.0 446.1h2.4M14.6 447.4h2.4M20.1 448.7h2.4M25.7 450.0h2.4M31.3 451.3h2.4M36.9 452.6h2.4M42.4 453.9h2.4M48.0 455.2h2.4M53.6 456.5h2.4M59.1 457.7h2.4M64.7 459.0h2.4M70.3 460.3h2.4M75.8 461.6h2.4M81.4 462.9h2.4M87.0 464.2h2.4M92.6 465.5h2.4M98.1 466.8h2.4M103.7 468.1h2.4M109.3 469.4h2.4M114.8 470.7h2.4M120.4 472.0h2.4M126.0 473.3h2.4M131.5 474.6h2.4M137.1 475.8h2.4M142.7 477.1h2.4M148.2 478.4h2.4M153.8 479.7h2.4M159.4 481.0h2.4M165.0 482.3h2.4M170.5 483.6h2.4M176.1 484.9h2.4M181.7 486.2h2.4M187.2 487.5h2.4M192.8 488.8h2.4M198.4 490.1h2.4M1.9 440.6h2.4M7.5 441.9h2.4M13.0 443.2h2.4M18.6 444.5h2.4M24.2 445.8h2.4M29.7 447.1h2.4M35.3 448.4h2.4M40.9 449.7h2.4M46.4 451.0h2.4M52.0 452.3h2.4M57.6 453.5h2.4M63.1 454.8h2.4M68.7 456.1h2.4M74.3 457.4h2.4M79.9 458.7h2.4M85.4 460.0h2.4M91.0 461.3h2.4M96.6 462.6h2.4M102.1 463.9h2.4M107.7 465.2h2.4M113.3 466.5h2.4M118.9 467.8h2.4M124.4 469.1h2.4M130.0 470.4h2.4M135.6 471.7h2.4M141.1 472.9h2.4M146.7 474.2h2.4M152.3 475.5h2.4M157.8 476.8h2.4M163.4 478.1h2.4M169.0 479.4h2.4M174.6 480.7h2.4M180.1 482.0h2.4M185.7 483.3h2.4M191.3 484.6h2.4M196.8 485.9h2.4M202.4 487.2h2.4M0.3 436.4h2.4M5.9 437.7h2.4M11.5 439.0h2.4M17.0 440.3h2.4M22.6 441.6h2.4M28.2 442.9h2.4M33.8 444.2h2.4M39.3 445.5h2.4M44.9 446.8h2.4M50.5 448.1h2.4M56.0 449.4h2.4M61.6 450.6h2.4M67.2 451.9h2.4M72.7 453.2h2.4M78.3 454.5h2.4M83.9 455.8h2.4M89.5 457.1h2.4M95.0 458.4h2.4M100.6 459.7h2.4M106.2 461.0h2.4M111.7 462.3h2.4M117.3 463.6h2.4M122.9 464.9h2.4M128.4 466.2h2.4M134.0 467.5h2.4M139.6 468.7h2.4M145.2 470.0h2.4M150.7 471.3h2.4M156.3 472.6h2.4M161.9 473.9h2.4M167.4 475.2h2.4M173.0 476.5h2.4M178.6 477.8h2.4M184.1 479.1h2.4M189.7 480.4h2.4M195.3 481.7h2.4M200.9 483.0h2.4M206.4 484.3h2.4M4.4 433.5h2.4M9.9 434.8h2.4M15.5 436.1h2.4M21.1 437.4h2.4M26.6 438.7h2.4M32.2 440.0h2.4M37.8 441.3h2.4M43.3 442.6h2.4M48.9 443.9h2.4M54.5 445.2h2.4M60.0 446.4h2.4M65.6 447.7h2.4M71.2 449.0h2.4M76.8 450.3h2.4M82.3 451.6h2.4M87.9 452.9h2.4M93.5 454.2h2.4M99.0 455.5h2.4M104.6 456.8h2.4M110.2 458.1h2.4M115.8 459.4h2.4M121.3 460.7h2.4M126.9 462.0h2.4M132.5 463.3h2.4M138.0 464.6h2.4M143.6 465.8h2.4M149.2 467.1h2.4M154.7 468.4h2.4M160.3 469.7h2.4M165.9 471.0h2.4M171.5 472.3h2.4M177.0 473.6h2.4M182.6 474.9h2.4M188.2 476.2h2.4M193.7 477.5h2.4M199.3 478.8h2.4M204.9 480.1h2.4M210.4 481.4h2.4M2.8 429.3h2.4M8.4 430.6h2.4M13.9 431.9h2.4M19.5 433.2h2.4M25.1 434.5h2.4M30.7 435.8h2.4M36.2 437.1h2.4M41.8 438.4h2.4M47.4 439.7h2.4M52.9 441.0h2.4M58.5 442.3h2.4M64.1 443.5h2.4M69.6 444.8h2.4M75.2 446.1h2.4M80.8 447.4h2.4M86.4 448.7h2.4M91.9 450.0h2.4M97.5 451.3h2.4M103.1 452.6h2.4M108.6 453.9h2.4M114.2 455.2h2.4M119.8 456.5h2.4M125.3 457.8h2.4M130.9 459.1h2.4M136.5 460.4h2.4M142.1 461.6h2.4M147.6 462.9h2.4M153.2 464.2h2.4M158.8 465.5h2.4M164.3 466.8h2.4M169.9 468.1h2.4M175.5 469.4h2.4M181.0 470.7h2.4M186.6 472.0h2.4M192.2 473.3h2.4M197.8 474.6h2.4M203.3 475.9h2.4M208.9 477.2h2.4M6.8 426.4h2.4M12.4 427.7h2.4M18.0 429.0h2.4M23.5 430.3h2.4M29.1 431.6h2.4M34.7 432.9h2.4M40.2 434.2h2.4M45.8 435.5h2.4M51.4 436.8h2.4M57.0 438.1h2.4M62.5 439.3h2.4M68.1 440.6h2.4M73.7 441.9h2.4M79.2 443.2h2.4M84.8 444.5h2.4M90.4 445.8h2.4M95.9 447.1h2.4M101.5 448.4h2.4M107.1 449.7h2.4M112.7 451.0h2.4M118.2 452.3h2.4M123.8 453.6h2.4M129.4 454.9h2.4M134.9 456.2h2.4M140.5 457.5h2.4M146.1 458.7h2.4M151.6 460.0h2.4M157.2 461.3h2.4M162.8 462.6h2.4M168.4 463.9h2.4M173.9 465.2h2.4M179.5 466.5h2.4M185.1 467.8h2.4M190.6 469.1h2.4M196.2 470.4h2.4M201.8 471.7h2.4M207.3 473.0h2.4M212.9 474.3h2.4" fill="none" stroke="#fff" stroke-width="2.05" stroke-linecap="round"/></g></g>
<path class="wf" style="stroke-width:0.9" d="M0 462.33680000000004 L46.6 436.8 Q51.800000000000004 435.2 52.400000000000006 440.0 Q52.6 444.40000000000003 50.0 444.20000000000005 L0 471.13680000000005"/>
<path class="wf" style="stroke-width:0.9" d="M0 522.1 L100 467.3 L100 476.6 L0 531.4"/>
<path class="wf" style="stroke-width:0.9" d="M0 580.2752 L172.6 485.0 Q177.79999999999998 483.4 178.39999999999998 488.2 Q178.6 492.6 176.0 493.1 L0 589.7752"/>
<path class="wf" style="stroke:none" d="M204 521 L62 604.7 L62 613.4 L214 531.4Z"/>
<path class="ln" style="stroke-width:1.6" d="M217.2 529.6 L100 592.9"/>
<path class="th" d="M210 536.6 L104 594"/>
<path class="ln" d="M2 415.2 L101 453.4 M124 462.3 L232 504"/>
<path class="ln" d="M248.6 509.6 L282 522.6 Q293.6 527.4 297.4 533 Q300.4 538.4 295.6 544.4 Q292 548.4 276.5 555.2"/>
<path class="ln" style="stroke-width:1.3" d="M244.3 519.3 L288 536.8 L143.4 616.6 Q131 623.4 121 623.7 Q112 623.6 103.4 621 L74.1 609"/>
<path class="ln" d="M272.4 553.8 L177.2 608.2 M160.4 617.6 L136.2 632.2 Q127 636.2 119 635.4 Q110 634.2 103.4 631.4 L75 619.3"/>
<path class="ln" d="M230.4 584 L179.6 611.6 M229 590.2 L179.6 616.6"/>
<path class="ln" d="M141 639.6 L121 650.4 Q113 655.2 106.9 655.5 Q99 655.2 91.4 652 L74.1 641.7"/>
<path class="ln" d="M141 633.6 L125 642"/>
<path class="wf" style="stroke-width:1.1" d="M 274.7 554.0 Q 277.6 562.0 271.0 570.6 Q 262.0 584.6 244.8 590.2 Q 236.0 592.6 230.3 591.2 L 229.1 584.0 Q 238.0 586.6 246.0 582.6 Q 257.0 576.6 259.6 566.0 Q 260.6 562.6 260.5 560.0 Z"/>
<path class="ln" d="M 262.6 558.8 Q 264.6 566.0 260.6 574.0 Q 254.0 584.6 240.0 588.4"/>
<path class="ln" d="M 260.5 560.0 L 262.6 558.8 L 274.7 554.0"/>
<path class="wf" style="stroke-width:1.1" d="M 177.1 608.6 Q 180.0 616.6 173.4 625.2 Q 164.4 639.2 147.2 644.8 Q 138.4 647.2 132.7 645.8 L 131.5 638.6 Q 140.4 641.2 148.4 637.2 Q 159.4 631.2 162.0 620.6 Q 163.0 617.2 162.9 614.6 Z"/>
<path class="ln" d="M 165.0 613.4 Q 167.0 620.6 163.0 628.6 Q 156.4 639.2 142.4 643.0"/>
<path class="ln" d="M 162.9 614.6 L 165.0 613.4 L 177.1 608.6"/>
<path class="ln" d="M2 578.4 L44 593 M2 591.7 L44.8 606.4 M2 610.7 L51.7 630.5 M2 620.2 L55.2 641.7"/>
<path class="wf" style="stroke-width:1" d="M66.4 601.7 L86 585.7 L104.7 592.4 L104.7 596 L71.6 608.6 L66.4 606Z"/>
<path class="ln" d="M66.4 601.7 L71.4 604.4 L104.7 592.4 M71.4 604.4 L71.6 608.6"/>
<path class="ln" style="stroke-width:1.2" d="M69.6 600.6 L92.6 590.6 M92.6 590.6 L93 588.4"/>
<path d="M72.4 605.2 L104 593.6 M72.6 607 L104.2 595.2" style="stroke:#111;stroke-width:1.5;stroke-dasharray:0.9 0.8;fill:none"/>
<path d="M82 587.4 L89 588.4 M92 591.4 L97.6 589.8" style="stroke:#000;stroke-width:1.6;fill:none"/>
<path d="M80.6 608.6 L101.6 600" style="stroke:#111;stroke-width:1.5;stroke-dasharray:2.2 2;fill:none"/>
<path class="wf" style="stroke-width:1" d="M36.4 574.8 L47.8 578.4 L45.2 593 Q40 588 38.4 582.6 Q37 578.6 36.4 574.8Z"/>
<path class="wf" style="stroke-width:1" d="M61.2 585.7 L78.8 586.2 Q76.4 593 70 598.6 L66.4 601.2 Z"/>
<path d="M76 589.6 L78.8 586.2" style="stroke:#000;stroke-width:1.8;fill:none"/>
<path class="wf" style="stroke-width:1.1" d="M50.3 607.6 L55 641.6 L66.4 646.2 L73.1 644.7 L73.6 608.6 Z"/>
<path class="ln" d="M65.3 612 L66.4 646.2 M70.5 608.4 Q66.4 612 66.6 619 L68.4 645.7"/>
<path class="ln" d="M51.4 616.2 L64.8 620.9 M51.8 617.9 L65 622.5"/>
<path class="wf" style="stroke-width:1.3" d="M47.8 578 L59.7 584.1 L65.3 599.1 L65.9 608.4 L59.7 610 L47.2 606.4 L45.2 593 Z"/>
<path class="ln" style="stroke-width:1.2" d="M45.2 593 L58.1 596 L59.7 610 M58.1 596 L59.7 584.1 M58.1 596 L65.3 599.1"/>
<ellipse cx="52.1" cy="588.3" rx="2.7" ry="3.6" fill="#fff" stroke="#000" stroke-width="2.1" transform="rotate(8 52.1 588.3)"/>
<path class="ln" d="M52.6 588 L54.4 592.6"/>
<path class="wf" style="stroke-width:1.1" d="M202.6 521.1 L233.6 504 L248.8 509.7 L249 513.4 L245.8 518.2 L217.4 533.9 L216.8 529 Z"/>
<path class="ln" d="M217 529 L248.8 509.7"/>
<path d="M217.6 531 L246.6 514.6 M217.6 532.8 L245.6 517" style="stroke:#111;stroke-width:1.1;stroke-dasharray:1.2 0.9;fill:none"/>
<path class="ln" d="M213.4 535.4 L217.4 537 L245 521.6 L245.8 518.2 M213.4 535.4 L213.6 531.4"/>
<path d="M222 536 L238 527" style="stroke:#111;stroke-width:1.3;stroke-dasharray:2.4 1.4;fill:none"/>
<path d="M206.4 520.4 L211.6 517.5" style="stroke:#000;stroke-width:1.9;stroke-linecap:round;fill:none"/>
<path d="M216.6 514.6 L221.79999999999998 511.70000000000005" style="stroke:#000;stroke-width:1.9;stroke-linecap:round;fill:none"/>
<path d="M226.6 509 L231.79999999999998 506.1" style="stroke:#000;stroke-width:1.9;stroke-linecap:round;fill:none"/>
<path d="M216.6 525.4 L221.79999999999998 522.5" style="stroke:#000;stroke-width:1.9;stroke-linecap:round;fill:none"/>
<path d="M226.8 519.6 L232.0 516.7" style="stroke:#000;stroke-width:1.9;stroke-linecap:round;fill:none"/>
<path d="M236.8 514 L242.0 511.1" style="stroke:#000;stroke-width:1.9;stroke-linecap:round;fill:none"/>
<path class="wf" style="stroke-width:1.5" d="M 250.7 446.0 L 250.7 440.4 L 252.4 439.4 L 264.3 443.8 L 264.3 450.0"/>
<path class="ln" d="M 252.6 441.6 L 262.6 445.4 L 262.6 449.0"/>
<ellipse cx="257.6" cy="446.6" rx="1.8" ry="1.2" fill="#111"/>
<path class="wf" style="stroke-width:1.1" d="M 234.7 439.0 L 275.5 454.6 L 272.4 460.8 L 263.4 464.8 L 243.0 457.2 Q 238.0 450.6 236.4 446.0 Q 235.2 442.4 234.7 439.0 Z"/>
<path class="ln" d="M 239.6 452.4 L 245.4 454.6"/>
<path class="wf" style="stroke-width:1.5" d="M 245.6 448.6 L 263.2 455.2 L 261.4 470.6 Q 260.6 476.4 255.0 479.6 L 227.4 494.4 Q 225.0 495.4 222.6 494.6 L 215.0 491.2 Q 213.0 490.0 213.2 487.6 L 213.4 485.2 L 237.0 472.4 Q 241.6 469.6 242.6 464.6 Z"/>
<path class="ln" d="M 247.4 450.6 L 244.6 465.4 Q 243.6 470.6 238.6 473.6 L 215.4 486.4 L 215.2 490.6"/>
<path class="ln" d="M 261.2 457.0 L 259.4 470.2 Q 258.6 475.0 254.0 477.6 L 227.0 492.0 L 222.8 492.4 L 215.4 489.0"/>
<path class="ln" d="M 249.4 451.6 L 247.6 462.0"/>
<path d="M 219.0 486.6 L 231.6 479.8 M 232.6 478.6 L 243.0 472.8" style="stroke:#000;stroke-width:2.2;stroke-linecap:round;fill:none"/>
<path class="ln" d="M 222.4 489.6 L 251.0 474.2 Q 254.6 472.0 255.4 468.4 L 256.0 464.6 M 236.6 481.6 L 252.0 473.2 M 234.8 479.6 L 236.0 482.6"/>
<path class="ln" d="M 251.0 466.6 Q 246.0 469.6 241.6 475.4 L 252.6 469.4 Q 252.2 467.6 251.0 466.6"/>
<circle cx="250.0" cy="460.2" r="1.7" fill="#000"/>
<circle class="ln" cx="254.0" cy="458.6" r="1.1"/>
<circle class="ln" cx="253.4" cy="464.4" r="1.1"/>
<circle class="ln" cx="254.6" cy="461.6" r="0.9"/>
<path d="M 254.6 455.6 L 261.6 458.2" style="stroke:#000;stroke-width:1.7;fill:none"/>
<path d="M 263.6 456.0 L 260.4 474.6" style="stroke:#000;stroke-width:1.8;stroke-linecap:round;fill:none"/>
<path class="ln" d="M 265.2 459.0 L 262.4 471.6"/>
<path class="ln" style="stroke:#000;stroke-width:1.1" d="M118.4 471 L110.4 500.6 M121.4 470 L126.4 495 L112.6 499.6 M105 479.6 L119 492.6"/>
<path class="wf" style="stroke-width:1.5" d="M 122.2 424.6 L 122.2 419.0 L 123.9 418.0 L 135.8 422.4 L 135.8 428.6"/>
<path class="ln" d="M 124.1 420.2 L 134.1 424.0 L 134.1 427.6"/>
<ellipse cx="129.1" cy="425.2" rx="1.8" ry="1.2" fill="#111"/>
<path class="wf" style="stroke-width:1.1" d="M 106.2 417.6 L 147.0 433.2 L 143.9 439.4 L 134.9 443.4 L 114.5 435.8 Q 109.5 429.2 107.9 424.6 Q 106.7 421.0 106.2 417.6 Z"/>
<path class="ln" d="M 111.1 431.0 L 116.9 433.2"/>
<path class="wf" style="stroke-width:1.5" d="M 117.1 427.2 L 134.7 433.8 L 132.9 449.2 Q 132.1 455.0 126.5 458.2 L 98.9 473.0 Q 96.5 474.0 94.1 473.2 L 86.5 469.8 Q 84.5 468.6 84.7 466.2 L 84.9 463.8 L 108.5 451.0 Q 113.1 448.2 114.1 443.2 Z"/>
<path class="ln" d="M 118.9 429.2 L 116.1 444.0 Q 115.1 449.2 110.1 452.2 L 86.9 465.0 L 86.7 469.2"/>
<path class="ln" d="M 132.7 435.6 L 130.9 448.8 Q 130.1 453.6 125.5 456.2 L 98.5 470.6 L 94.3 471.0 L 86.9 467.6"/>
<path class="ln" d="M 120.9 430.2 L 119.1 440.6"/>
<path d="M 90.5 465.2 L 103.1 458.4 M 104.1 457.2 L 114.5 451.4" style="stroke:#000;stroke-width:2.2;stroke-linecap:round;fill:none"/>
<path class="ln" d="M 93.9 468.2 L 122.5 452.8 Q 126.1 450.6 126.9 447.0 L 127.5 443.2 M 108.1 460.2 L 123.5 451.8 M 106.3 458.2 L 107.5 461.2"/>
<path class="ln" d="M 122.5 445.2 Q 117.5 448.2 113.1 454.0 L 124.1 448.0 Q 123.7 446.2 122.5 445.2"/>
<circle cx="121.5" cy="438.8" r="1.7" fill="#000"/>
<circle class="ln" cx="125.5" cy="437.2" r="1.1"/>
<circle class="ln" cx="124.9" cy="443.0" r="1.1"/>
<circle class="ln" cx="126.1" cy="440.2" r="0.9"/>
<path d="M 126.1 434.2 L 133.1 436.8" style="stroke:#000;stroke-width:1.7;fill:none"/>
<path d="M 135.1 434.6 L 131.9 453.2" style="stroke:#000;stroke-width:1.8;stroke-linecap:round;fill:none"/>
<path class="ln" d="M 136.7 437.6 L 133.9 450.2"/>
<path class="wf" style="stroke-width:1" d="M76.3 472.6 L87.2 466.9 L98.7 472.6 L90.7 479 Z"/>
<path d="M88.6 475.4 L95.6 476.4" style="stroke:#000;stroke-width:1.8;fill:none"/>
<path d="M79.6 472.4 L86.4 468.8" style="stroke:#000;stroke-width:1.6;stroke-dasharray:3 1.4;fill:none"/>
<path class="wf" style="stroke-width:1" d="M90.7 479 L121 462.6 L121.4 466.8 L91.4 483.6 Z"/>
<path d="M92.4 481.6 L120.6 465.4" style="stroke:#111;stroke-width:1.2;stroke-dasharray:1 0.9;fill:none"/>
<ellipse cx="229.4" cy="438.8" rx="2.7" ry="1.7" fill="#000"/>
<ellipse cx="229.4" cy="446.4" rx="2.7" ry="1.7" fill="#000"/>
<ellipse cx="229.4" cy="453.4" rx="2.7" ry="1.7" fill="#000"/>
<path class="ln" d="M226.2 454.4 Q229.4 456.6 232.6 454.4"/>
<path class="ds" d="M219.1 462 V538 M227.9 456 V547 M238.8 462 V486 M238.8 496 V531"/>
<path class="ds" d="M219.1 462 L226.4 458.6 M238.8 462 L231.6 458.4 M219.1 538 L228.6 542.6 L238.8 531"/>
<path class="ds" d="M224.4 458 L229.4 455 L234 458"/>
<path d="M229.1 546.8 L230.5 549.6 L230.4 555.4 L231.8 557.4 Q231.6 560 229.1 560 Q226.6 560 226.4 557.4 L227.8 555.4 L227.7 549.6 Z" fill="#000"/>
<path d="M227.2 551 H231 M227.2 553.4 H231" style="stroke:#000;stroke-width:0.8;fill:none"/>
<text class="lab" style="font-size:16px" x="301.5" y="502.7" textLength="7.4" lengthAdjust="spacingAndGlyphs">E</text><text class="lab" style="font-size:16px" x="317.1" y="502.7" textLength="6.8" lengthAdjust="spacingAndGlyphs">F</text><text class="lab" style="font-size:16px" x="331.8" y="502.7" textLength="8.2" lengthAdjust="spacingAndGlyphs">G</text><text class="lab" style="font-size:16px" x="347.5" y="502.7" textLength="8.2" lengthAdjust="spacingAndGlyphs">H</text>
<path class="th" d="M301 506.3 L232.4 553.2"/>
<path class="ln" style="stroke-width:1.2;stroke:#333" d="M358.2 506.3 H301"/>
<path d="M232 553.4 L236.8 551.6 L235.4 549.6 Z" fill="#111"/>
</g></g>
</svg>
</body></html>
